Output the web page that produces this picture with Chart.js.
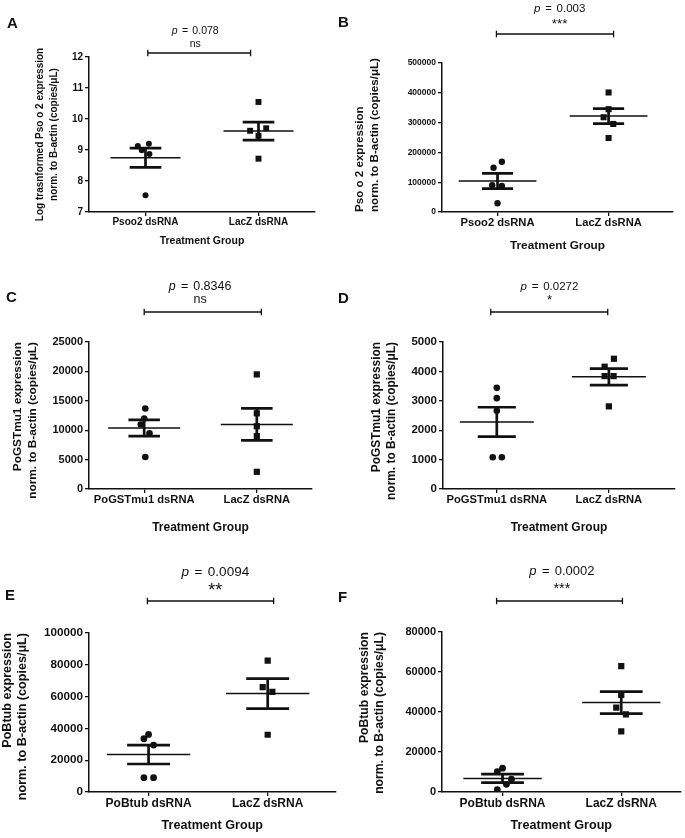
<!DOCTYPE html>
<html>
<head>
<meta charset="utf-8">
<script src="https://cdn.jsdelivr.net/npm/chart.js@4.4.0/dist/chart.umd.min.js"></script>
<style>
  body { margin: 0; background: #fff; width: 685px; height: 838px; position: relative; overflow: hidden; }
  canvas { position: absolute; }
</style>
</head>
<body>
<canvas id="chartA"></canvas>
<canvas id="chartB"></canvas>
<canvas id="chartC"></canvas>
<canvas id="chartD"></canvas>
<canvas id="chartE"></canvas>
<canvas id="chartF"></canvas>
<script>
// ---- data ----
// A: log transformed Pso o 2
const groupsA = ['Psoo2 dsRNA', 'LacZ dsRNA'];
const treatA = [9.13, 9.20, 8.99, 8.87, 7.54];
const laczA = [10.55, 9.62, 9.70, 9.46, 8.72];
const meanA = [8.75, 9.61];
const semA = [0.31, 0.29];
const yTicksA = [7, 8, 9, 10, 11, 12];
const pValueA = '0.078', sigA = 'ns';

// B: Pso o 2
const groupsB = ['Psoo2 dsRNA', 'LacZ dsRNA'];
const treatB = [148300, 168500, 89900, 87600, 29200];
const laczB = [401100, 345000, 318000, 295500, 248300];
const meanB = [104000, 321800];
const semB = [25300, 25200];
const yTicksB = [0, 100000, 200000, 300000, 400000, 500000];
const pValueB = '0.003', sigB = '***';

// C: PoGSTmu1
const groupsC = ['PoGSTmu1 dsRNA', 'LacZ dsRNA'];
const treatC = [13700, 12000, 10960, 9490, 5450];
const laczC = [19490, 12870, 10670, 8990, 2920];
const meanC = [10360, 10980];
const semC = [1380, 2720];
const yTicksC = [0, 5000, 10000, 15000, 20000, 25000];
const pValueC = '0.8346', sigC = 'ns';

// D: PoGSTmu1
const groupsD = ['PoGSTmu1 dsRNA', 'LacZ dsRNA'];
const treatD = [3440, 3090, 2660, 1080, 1080];
const laczD = [4430, 4160, 3840, 3840, 2810];
const meanD = [2280, 3815];
const semD = [500, 280];
const yTicksD = [0, 1000, 2000, 3000, 4000, 5000];
const pValueD = '0.0272', sigD = '*';

// E: PoBtub
const groupsE = ['PoBtub dsRNA', 'LacZ dsRNA'];
const treatE = [33500, 36200, 29500, 9000, 9000];
const laczE = [82600, 65900, 63000, 36000];
const meanE = [23550, 61900];
const semE = [5950, 9400];
const yTicksE = [0, 20000, 40000, 60000, 80000, 100000];
const pValueE = '0.0094', sigE = '**';

// F: PoBtub
const groupsF = ['PoBtub dsRNA', 'LacZ dsRNA'];
const treatF = [10200, 11900, 6400, 3850, 1200];
const laczF = [62900, 48500, 42200, 38800, 30300];
const meanF = [6800, 44700];
const semF = [2100, 5500];
const yTicksF = [0, 20000, 40000, 60000, 80000];
const pValueF = '0.0002', sigF = '***';

const normTitle = 'norm. to B-actin (copies/\u03bcL)';
const xTitle = 'Treatment Group';

const INK = '#111';
const FONT = '"Liberation Sans", Arial, Helvetica, sans-serif';

// layout of each panel (page pixels), plus the small horizontal jitter of the dots
const panels = [
  { id: 'A', canvas: [0, 0, 340, 262], area: [89, 57, 315, 212], xRange: [0.5, 2.5],
    groups: groupsA, treat: treatA, lacz: laczA, mean: meanA, sem: semA, yTicks: yTicksA,
    pValue: pValueA, sig: sigA,
    yTitle: ['Log trasnformed Pso o 2 expression', normTitle], yTitleSize: 10, yTitleX: [40, 54.5], yAlign: 'center',
    xTitleSize: 10.5, xTitleBase: 245, tickY: 10, tickX: 10,
    pSize: 10.5, pBase: 34, textX: 1.44, sigSize: 10.5, sigBase: 46.7,
    bracket: [1.02, 1.93], bracketY: 53, letter: [7, 28],
    dot: 3, square: 4.2, meanHalf: 0.31, capHalf: 0.14,
    jitter: [[-0.068, 0.03, -0.033, 0.035, 0], [0, -0.074, 0.068, 0, 0]] },
  { id: 'B', canvas: [335, 0, 350, 262], area: [442, 63, 673, 212], xRange: [0.5, 2.58],
    groups: groupsB, treat: treatB, lacz: laczB, mean: meanB, sem: semB, yTicks: yTicksB,
    pValue: pValueB, sig: sigB,
    yTitle: ['Pso o 2 expression', normTitle], yTitleSize: 11.6, yTitleX: [360, 374.5], yAlign: 'start',
    xTitleSize: 11.8, xTitleBase: 250, tickY: 8.5, tickX: 11.2,
    pSize: 11.5, pBase: 11.7, textX: 1.56, sigSize: 13.5, sigBase: 27.5,
    bracket: [0.99, 2.045], bracketY: 34, letter: [338, 27],
    dot: 3.2, square: 4.3, meanHalf: 0.35, capHalf: 0.14,
    jitter: [[-0.036, 0.039, -0.048, 0.039, 0], [0, 0, -0.045, 0.042, 0]] },
  { id: 'C', canvas: [0, 262, 340, 278], area: [89, 342, 312, 489], xRange: [0.51, 2.49],
    groups: groupsC, treat: treatC, lacz: laczC, mean: meanC, sem: semC, yTicks: yTicksC,
    pValue: pValueC, sig: sigC,
    yTitle: ['PoGSTmu1 expression', normTitle], yTitleSize: 11.8, yTitleX: [18, 33], yAlign: 'end',
    xTitleSize: 12, xTitleBase: 532, tickY: 11, tickX: 11.2,
    pSize: 12.5, pBase: 290, textX: 1.496, sigSize: 12.5, sigBase: 303,
    bracket: [1.0, 2.04], bracketY: 312, letter: [6, 302],
    dot: 3.3, square: 4.4, meanHalf: 0.32, capHalf: 0.14,
    jitter: [[0.01, 0, -0.03, 0.047, 0.01], [0, 0, 0, 0, 0]] },
  { id: 'D', canvas: [335, 262, 350, 278], area: [443, 342, 675, 489], xRange: [0.52, 2.59],
    groups: groupsD, treat: treatD, lacz: laczD, mean: meanD, sem: semD, yTicks: yTicksD,
    pValue: pValueD, sig: sigD,
    yTitle: ['PoGSTmu1 expression', normTitle], yTitleSize: 11.9, yTitleX: [377, 392], yAlign: 'end',
    xTitleSize: 12, xTitleBase: 532, tickY: 11.5, tickX: 11.2,
    pSize: 11.5, pBase: 290, textX: 1.47, sigSize: 13, sigBase: 304,
    bracket: [0.946, 1.99], bracketY: 312, letter: [338, 303],
    dot: 3.3, square: 4.4, meanHalf: 0.33, capHalf: 0.17,
    jitter: [[0, 0, 0, -0.036, 0.045], [0.045, -0.038, -0.038, 0.042, 0]] },
  { id: 'E', canvas: [0, 548, 340, 290], area: [89, 633, 337, 792], xRange: [0.5, 2.57],
    groups: groupsE, treat: treatE, lacz: laczE, mean: meanE, sem: semE, yTicks: yTicksE,
    pValue: pValueE, sig: sigE,
    yTitle: ['PoBtub expression', normTitle], yTitleSize: 12.6, yTitleX: [8, 23], yAlign: 'end',
    xTitleSize: 12.6, xTitleBase: 830, tickY: 11.7, tickX: 12,
    pSize: 13.5, pBase: 576, textX: 1.56, sigSize: 18, sigBase: 596,
    bracket: [0.99, 2.05], bracketY: 601, letter: [5, 600],
    dot: 3.4, square: 4.4, meanHalf: 0.35, capHalf: 0.18,
    jitter: [[-0.039, 0, 0.042, -0.039, 0.042], [0, -0.042, 0.039, 0]] },
  { id: 'F', canvas: [335, 548, 350, 290], area: [442, 632, 683, 792], xRange: [0.49, 2.5],
    groups: groupsF, treat: treatF, lacz: laczF, mean: meanF, sem: semF, yTicks: yTicksF,
    pValue: pValueF, sig: sigF,
    yTitle: ['PoBtub expression', normTitle], yTitleSize: 12.2, yTitleX: [365, 380], yAlign: 'end',
    xTitleSize: 12.6, xTitleBase: 830, tickY: 11, tickX: 12,
    pSize: 13, pBase: 575, textX: 1.50, sigSize: 14.5, sigBase: 593,
    bracket: [0.95, 2.01], bracketY: 601, letter: [338, 602],
    dot: 3.4, square: 4.4, meanHalf: 0.33, capHalf: 0.18,
    jitter: [[-0.044, 0, 0.075, 0.033, -0.044], [0, 0, -0.042, 0.039, 0]] }
];

const buildDatasets = function(p) {
  const treatPts = p.treat.map((v, i) => ({ x: 1 + p.jitter[0][i], y: v }));
  const laczPts = p.lacz.map((v, i) => ({ x: 2 + p.jitter[1][i], y: v }));
  // mean line and SEM bars, broken apart with null points
  let meanLine = [], semLines = [];
  p.mean.forEach(function(m, i) {
    const c = i + 1, s = p.sem[i];
    meanLine.push({ x: c - p.meanHalf, y: m }, { x: c + p.meanHalf, y: m }, { x: c, y: null });
    semLines.push(
      { x: c - p.capHalf, y: m + s }, { x: c + p.capHalf, y: m + s }, { x: c, y: null },
      { x: c - p.capHalf, y: m - s }, { x: c + p.capHalf, y: m - s }, { x: c, y: null },
      { x: c, y: m + s }, { x: c, y: m - s }, { x: c, y: null });
  });
  return [
    { data: treatPts, pointStyle: 'circle', pointRadius: p.dot, backgroundColor: INK, borderWidth: 0 },
    { data: laczPts, pointStyle: 'rect', pointRadius: p.square, backgroundColor: INK, borderWidth: 0 },
    { data: meanLine, showLine: true, pointRadius: 0, borderColor: INK, borderWidth: 1.5, spanGaps: false },
    { data: semLines, showLine: true, pointRadius: 0, borderColor: INK, borderWidth: 2.7, spanGaps: false }
  ];
}

// panel letter, p value, star text and the bracket over the two groups
const annotations = function(p) {
  return {
    id: 'annot' + p.id,
    afterDraw(chart) {
      const ctx = chart.ctx, xs = chart.scales.x;
      const ox = p.canvas[0], oy = p.canvas[1];
      ctx.save();
      ctx.fillStyle = INK;
      ctx.strokeStyle = INK;
      ctx.textBaseline = 'alphabetic';
      ctx.textAlign = 'left';
      ctx.font = 'bold 15px ' + FONT;
      ctx.fillText(p.id, p.letter[0] - ox, p.letter[1] - oy);

      const mid = xs.getPixelForValue(p.textX);
      const sz = p.pSize;
      ctx.font = 'italic ' + sz + 'px ' + FONT;
      const wp = ctx.measureText('p').width;
      ctx.font = sz + 'px ' + FONT;
      const weq = ctx.measureText('=').width;
      const wv = ctx.measureText(p.pValue).width;
      const g1 = 0.42 * sz, g2 = 0.4 * sz;
      let sx = mid - (wp + g1 + weq + g2 + wv) / 2;
      const py = p.pBase - oy;
      ctx.font = 'italic ' + sz + 'px ' + FONT;
      ctx.fillText('p', sx, py);
      ctx.font = sz + 'px ' + FONT;
      ctx.fillText('=', sx + wp + g1, py);
      ctx.fillText(p.pValue, sx + wp + g1 + weq + g2, py);

      ctx.textAlign = 'center';
      ctx.font = p.sigSize + 'px ' + FONT;
      ctx.fillText(p.sig, mid, p.sigBase - oy);

      const x0 = xs.getPixelForValue(p.bracket[0]), x1 = xs.getPixelForValue(p.bracket[1]);
      const by = p.bracketY - oy;
      ctx.lineWidth = 1.3;
      ctx.beginPath();
      ctx.moveTo(x0, by); ctx.lineTo(x1, by);
      ctx.moveTo(x0, by - 3.3); ctx.lineTo(x0, by + 3.3);
      ctx.moveTo(x1, by - 3.3); ctx.lineTo(x1, by + 3.3);
      ctx.stroke();
      ctx.restore();
    }
  };
}

const drawPanel = function(p) {
  const [cx, cy, cw, ch] = p.canvas;
  const [al, at, ar, ab] = p.area;
  const el = document.getElementById('chart' + p.id);
  el.width = cw; el.height = ch;
  el.style.left = cx + 'px'; el.style.top = cy + 'px';
  el.style.width = cw + 'px'; el.style.height = ch + 'px';

  const yGap = p.yTitleX[1] - p.yTitleX[0];
  const yPad = p.yTitleX[0] - cx - yGap / 2;
  const xLine = p.xTitleSize * 1.2;
  const xPad = (cy + ch) - (p.xTitleBase - 0.35 * p.xTitleSize) - xLine / 2;

  new Chart(el, {
    type: 'scatter',
    data: { datasets: buildDatasets(p) },
    options: {
      responsive: false,
      animation: false,
      devicePixelRatio: 1,
      layout: { padding: { left: 0, top: at - cy, right: cx + cw - ar, bottom: 0 } },
      plugins: { legend: { display: false }, tooltip: { enabled: false } },
      scales: {
        x: {
          type: 'linear',
          min: p.xRange[0], max: p.xRange[1],
          afterBuildTicks: (s) => { s.ticks = p.groups.map((g, i) => ({ value: i + 1 })); },
          afterFit: (s) => { s.height = cy + ch - ab; },
          ticks: { callback: (v, i) => p.groups[i], color: INK, padding: 0, autoSkip: false, maxRotation: 0,
                   font: { family: FONT, size: p.tickX, weight: 'bold' } },
          grid: { drawOnChartArea: false, tickLength: 4, color: INK, lineWidth: 1.3 },
          border: { color: INK, width: 1.5 },
          title: { display: true, text: xTitle, color: INK, padding: { top: 0, bottom: xPad },
                   font: { family: FONT, size: p.xTitleSize, weight: 'bold', lineHeight: 1.2 } }
        },
        y: {
          type: 'linear',
          min: p.yTicks[0], max: p.yTicks[p.yTicks.length - 1],
          afterBuildTicks: (s) => { s.ticks = p.yTicks.map(v => ({ value: v })); },
          afterFit: (s) => { s.width = al - cx; },
          ticks: { callback: (v) => String(v), color: INK, padding: 2,
                   font: { family: FONT, size: p.tickY, weight: 'bold' } },
          grid: { drawOnChartArea: false, tickLength: 4, color: INK, lineWidth: 1.3 },
          border: { color: INK, width: 1.5 },
          title: { display: true, text: p.yTitle, color: INK, align: p.yAlign, padding: { top: yPad, bottom: 0 },
                   font: { family: FONT, size: p.yTitleSize, weight: 'bold', lineHeight: yGap / p.yTitleSize } }
        }
      }
    },
    plugins: [annotations(p)]
  });
}

panels.forEach(p => drawPanel(p));
</script>
</body>
</html>
